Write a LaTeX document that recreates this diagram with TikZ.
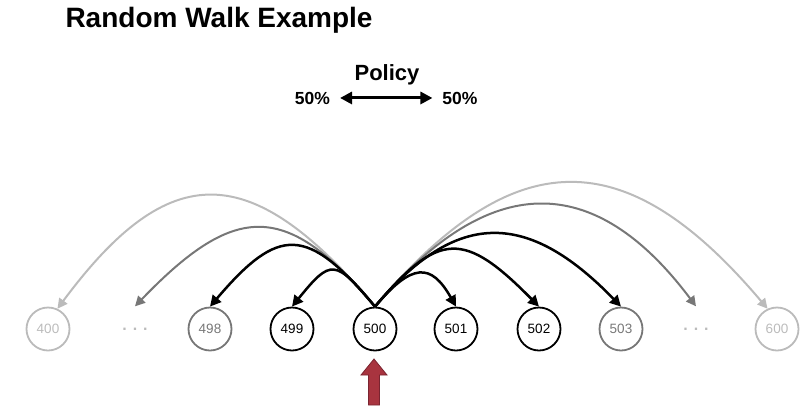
\documentclass[tikz,border=0pt]{standalone}
\usepackage{fontspec}
\setmainfont{Liberation Sans}
\usetikzlibrary{arrows.meta}
\definecolor{midgray}{HTML}{777777}
\definecolor{lightgray}{HTML}{BBBBBB}
\definecolor{markerred}{HTML}{A8343F}
\definecolor{markeredge}{HTML}{7A2430}
\tikzset{
    state/.style = {draw, circle, line width = 1.8pt, minimum size = 43pt, inner sep = 0pt,
        font = \fontsize{13.5}{16}\selectfont},
    gap/.style = {circle, minimum size = 45pt, inner sep = 0pt, text = lightgray,
        font = \fontsize{16}{19}\selectfont\bfseries},
    jump/.style = {line width = 2.5pt, -{Triangle[length = 11pt, width = 11pt]}},
    farjump/.style = {line width = 2pt, -{Triangle[length = 10pt, width = 10pt]}}
}
\begin{document}
\begin{tikzpicture}[x = 1pt, y = -1pt]
    \useasboundingbox (0,0) rectangle (812,416);
    \node[anchor = base west, font = \fontsize{28}{34}\selectfont\bfseries] (title) at (62,27) {Random Walk Example};
    \node[anchor = base, font = \fontsize{22}{26}\selectfont\bfseries] (policy) at (387,80) {Policy};
    \node[anchor = base, font = \fontsize{17.5}{21}\selectfont\bfseries] (pleft) at (312.5,104) {50\%};
    \node[anchor = base, font = \fontsize{17.5}{21}\selectfont\bfseries] (pright) at (460,104) {50\%};
    \draw[line width = 3pt, {Triangle[length = 12pt, width = 12pt]}-{Triangle[length = 12pt, width = 12pt]},
        shorten <= 6.5pt, shorten >= 6.5pt] (pleft.east) -- (pright.west);

    \foreach \n/\x/\c in {400/48/lightgray, 498/210/midgray, 499/292/black, 500/375/black,
        501/456/black, 502/539/black, 503/621/midgray, 600/777/lightgray}
        \node[state, draw = \c, text = \c] (s\n) at (\x,329) {\n};
    \node[gap] (gl) at (135,329) {. . .};
    \node[gap] (gr) at (696,329) {. . .};

    \draw[farjump, lightgray] (s500.north) .. controls +(-124,-148) and +(112,-151) .. (s400.65);
    \draw[farjump, lightgray] (s500.north) .. controls +(139,-165) and +(-142,-168) .. (s600.115);
    \draw[farjump, midgray] (s500.north) .. controls +(-88,-105) and +(101,-105) .. (gl.north);
    \draw[farjump, midgray] (s500.north) .. controls +(114,-136) and +(-102,-136) .. (gr.north);
    \draw[jump] (s500.north) .. controls +(-68,-81) and +(69,-81) .. (s498.north);
    \draw[jump] (s500.north) .. controls +(-40,-48) and +(39,-48) .. (s499.north);
    \draw[jump] (s500.north) .. controls +(37,-44) and +(-25,-44) .. (s501.north);
    \draw[jump] (s500.north) .. controls +(64,-76) and +(-75,-76) .. (s502.north);
    \draw[jump] (s500.north) .. controls +(81,-97) and +(-94,-97) .. (s503.north);

    \filldraw[fill = markerred, draw = markeredge, line width = 0.8pt] (374,359) -- (387,375) -- (379.5,375)
        -- (379.5,405) -- (368.5,405) -- (368.5,375) -- (361,375) -- cycle;
\end{tikzpicture}
\end{document}
